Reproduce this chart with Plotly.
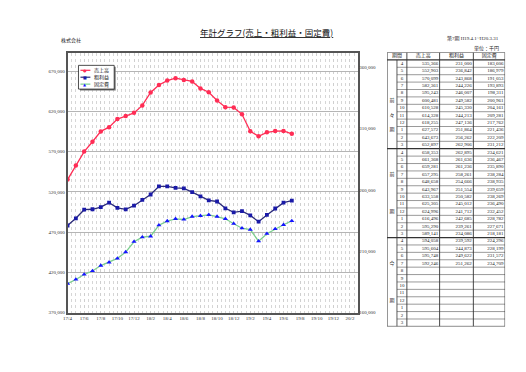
import plotly.graph_objects as go

# ---------------- data ----------------
months = ["17/4","17/5","17/6","17/7","17/8","17/9","17/10","17/11","17/12","18/1","18/2","18/3",
          "18/4","18/5","18/6","18/7","18/8","18/9","18/10","18/11","18/12","19/1","19/2","19/3",
          "19/4","19/5","19/6","19/7","19/8","19/9","19/10","19/11","19/12","20/1","20/2","20/3"]
sales = [535366, 552903, 570099, 582361, 595243, 600481, 610528, 614328, 618255, 627572, 643673, 652897,
         658353, 661368, 659281, 657295, 648658, 643967, 633558, 625305, 624996, 616496, 595290, 589141,
         594058, 595604, 595748, 592246]
gross = [231000, 236842, 243868, 244226, 246007, 249582, 245330, 244213, 247136, 251864, 256262, 262906,
         262895, 261636, 261236, 258261, 254666, 251554, 250582, 245012, 241712, 242685, 239261, 234086,
         239592, 244873, 249622, 251262]
fixed = [183606, 186979, 191053, 193893, 198311, 200961, 204161, 209281, 217762, 221436, 222209, 231212,
         234621, 236467, 235890, 238284, 238935, 239659, 238269, 236490, 232452, 228782, 227671, 218181,
         224296, 228199, 231572, 234709]
series_names = ["売上高", "粗利益", "固定費"]
left_ticks = [370000, 420000, 470000, 520000, 570000, 620000, 670000]
right_ticks = [160000, 210000, 260000, 310000, 360000]
table_months = [4, 5, 6, 7, 8, 9, 10, 11, 12, 1, 2, 3]
group_labels = [{5: "前", 7: "々", 9: "期"}, {3: "前", 8: "期"}, {3: "今", 8: "期"}]
header = ["期間", "売上高", "粗利益", "固定費"]

title = "年計グラフ(売上・粗利益・固定費)"
company = "株式会社"
period_text = "第7期 H19.4.1~H20.3.31"
unit_text = "単位：千円"

# styles
colors = ["#ff2d55", "#2b2b7a", "#7ccf8e"]
marker_colors = ["#ff2d55", "#1a1aa8", "#1515ff"]
marker_symbols = ["circle", "square", "triangle-up"]
legend_glyphs = ["●", "■", "▲"]

# the page body has an 8px margin; the figure is sized to fit inside it
OFF = 8
W, H = 526 - 2 * OFF, 372 - 2 * OFF
SERIF = "Liberation Serif, Noto Sans CJK JP"
CJK = "Noto Sans CJK JP, Liberation Serif"

def px_x(x):
    return (x - OFF) / W

def px_y(y):
    return 1 - (y - OFF) / H

x_idx = list(range(len(months)))

fig = go.Figure()
series = [sales, gross, fixed]
axes_for = ["y", "y2", "y2"]
for i, vals in enumerate(series):
    fig.add_trace(go.Scatter(
        x=x_idx[:len(vals)], y=vals, name=series_names[i], mode="lines+markers",
        line=dict(color=colors[i], width=1.3),
        marker=dict(symbol=marker_symbols[i], size=4.5 if i != 1 else 3.8, color=marker_colors[i]),
        yaxis=axes_for[i], showlegend=False))

# ---------------- table (own axes) ----------------
col_edges = [0, 10, 20, 53, 87, 119]
n_rows = 1 + 3 * len(table_months)

tx, ty, tt, tpos = [], [], [], []
tx.append(col_edges[1]); ty.append(0.5); tt.append(header[0]); tpos.append("middle center")
for c in range(3):
    tx.append((col_edges[c + 2] + col_edges[c + 3]) / 2); ty.append(0.5); tt.append(header[c + 1]); tpos.append("middle center")

for g in range(3):
    for r, m in enumerate(table_months):
        row = 1 + g * 12 + r
        tx.append((col_edges[1] + col_edges[2]) / 2); ty.append(row + 0.5); tt.append(str(m)); tpos.append("middle center")
        k = g * 12 + r
        for c in range(3):
            vals = series[c]
            if k < len(vals):
                tx.append(col_edges[c + 3] - 1.5); ty.append(row + 0.5)
                tt.append(f"{vals[k]:,}"); tpos.append("middle left")
        if r in group_labels[g]:
            tx.append((col_edges[0] + col_edges[1]) / 2); ty.append(row + 0.5)
            tt.append(group_labels[g][r]); tpos.append("middle center")

fig.add_trace(go.Scatter(
    x=tx, y=ty, text=tt, mode="text", textposition=tpos,
    textfont=dict(family=SERIF, size=5, color="#222"),
    xaxis="x3", yaxis="y3", showlegend=False, hoverinfo="skip", cliponaxis=False))

shapes = []
def tline(x0, y0, x1, y1, w=0.8, color="#333"):
    shapes.append(dict(type="line", xref="x3", yref="y3", x0=x0, y0=y0, x1=x1, y1=y1,
                       line=dict(color=color, width=w)))

for row in range(0, n_rows + 1):
    if row in (0, 1, 13, 25, n_rows):
        tline(col_edges[0], row, col_edges[-1], row, w=1.3 if row not in (0, n_rows) else 1.0)
    else:
        tline(col_edges[1], row, col_edges[-1], row, w=0.6, color="#555")
for i, xe in enumerate(col_edges):
    if i == 1:
        tline(xe, 1, xe, n_rows, w=0.8)
    else:
        tline(xe, 0, xe, n_rows, w=1.0 if i in (0, len(col_edges) - 1) else 0.9)

# ---------------- legend (compact, drawn like the original) ----------------
lg_x0, lg_x1, lg_y0, lg_y1 = 75, 111, 66, 90
shapes.append(dict(type="rect", xref="paper", yref="paper",
                   x0=px_x(lg_x0 + 1.5), x1=px_x(lg_x1 + 1.5), y0=px_y(lg_y1 + 1.5), y1=px_y(lg_y0 + 1.5),
                   fillcolor="#777", line=dict(width=0), layer="above"))
shapes.append(dict(type="rect", xref="paper", yref="paper",
                   x0=px_x(lg_x0), x1=px_x(lg_x1), y0=px_y(lg_y1), y1=px_y(lg_y0),
                   fillcolor="white", line=dict(color="#222", width=0.8), layer="above"))
annotations = []
for i, name in enumerate(series_names):
    yy = 71 + 7 * i
    shapes.append(dict(type="line", xref="paper", yref="paper",
                       x0=px_x(77), x1=px_x(87), y0=px_y(yy), y1=px_y(yy),
                       line=dict(color=colors[i], width=1.2), layer="above"))
    annotations.append(dict(x=px_x(82), y=px_y(yy), xref="paper", yref="paper", text=legend_glyphs[i],
                            showarrow=False, font=dict(family="DejaVu Sans", size=4, color=marker_colors[i]),
                            xanchor="center", yanchor="middle"))
    annotations.append(dict(x=px_x(89), y=px_y(yy), xref="paper", yref="paper", text=name,
                            showarrow=False, font=dict(family=CJK, size=5, color="#222"),
                            xanchor="left", yanchor="middle"))

# ---------------- texts ----------------
annotations += [
    dict(x=px_x(265), y=px_y(32), xref="paper", yref="paper", text=f"<u>{title}</u>",
         showarrow=False, font=dict(family=CJK, size=8.5, color="#111"), xanchor="center", yanchor="middle"),
    dict(x=px_x(55), y=px_y(40), xref="paper", yref="paper", text=company, showarrow=False,
         font=dict(family=CJK, size=5, color="#222"), xanchor="left", yanchor="middle"),
    dict(x=px_x(501), y=px_y(39), xref="paper", yref="paper", text=period_text, showarrow=False,
         font=dict(family=SERIF, size=5, color="#222"), xanchor="right", yanchor="middle"),
    dict(x=px_x(501), y=px_y(48), xref="paper", yref="paper", text=unit_text, showarrow=False,
         font=dict(family=CJK, size=5, color="#222"), xanchor="right", yanchor="middle"),
]

fig.update_layout(
    width=W, height=H,
    margin=dict(l=0, r=0, t=0, b=0),
    paper_bgcolor="white", plot_bgcolor="white",
    showlegend=False,
    xaxis=dict(domain=[px_x(64), px_x(357)], range=[0, 35],
               tickvals=x_idx[::2], ticktext=months[::2],
               tickfont=dict(family=SERIF, size=5, color="#333"),
               showgrid=True, gridcolor="#cfcfcf", griddash="dot", gridwidth=1,
               minor=dict(dtick=0.5, tick0=0, showgrid=True, gridcolor="#d6d6d6", griddash="dot", gridwidth=1),
               showline=True, linecolor="#555", linewidth=1.5, mirror=True,
               ticks="", zeroline=False, fixedrange=True),
    yaxis=dict(domain=[px_y(316), px_y(54)], range=[370000, 692100],
               tickvals=left_ticks, tickformat=",",
               tickfont=dict(family=SERIF, size=5, color="#333"),
               showgrid=True, gridcolor="#b5b5b5", gridwidth=1,
               showline=True, linecolor="#555", linewidth=1.5, mirror=True,
               ticks="", zeroline=False),
    yaxis2=dict(overlaying="y", side="right", range=[160000, 371290],
                tickvals=right_ticks, tickformat=",",
                tickfont=dict(family=SERIF, size=5, color="#333"),
                showgrid=False, zeroline=False, showline=False, ticks=""),
    xaxis3=dict(domain=[px_x(386), px_x(505)], range=[0, 119], visible=False, anchor="y3"),
    yaxis3=dict(domain=[px_y(330), px_y(53)], range=[n_rows, 0], visible=False, anchor="x3"),
    shapes=shapes,
    annotations=annotations,
)

fig.write_html("out.html")
